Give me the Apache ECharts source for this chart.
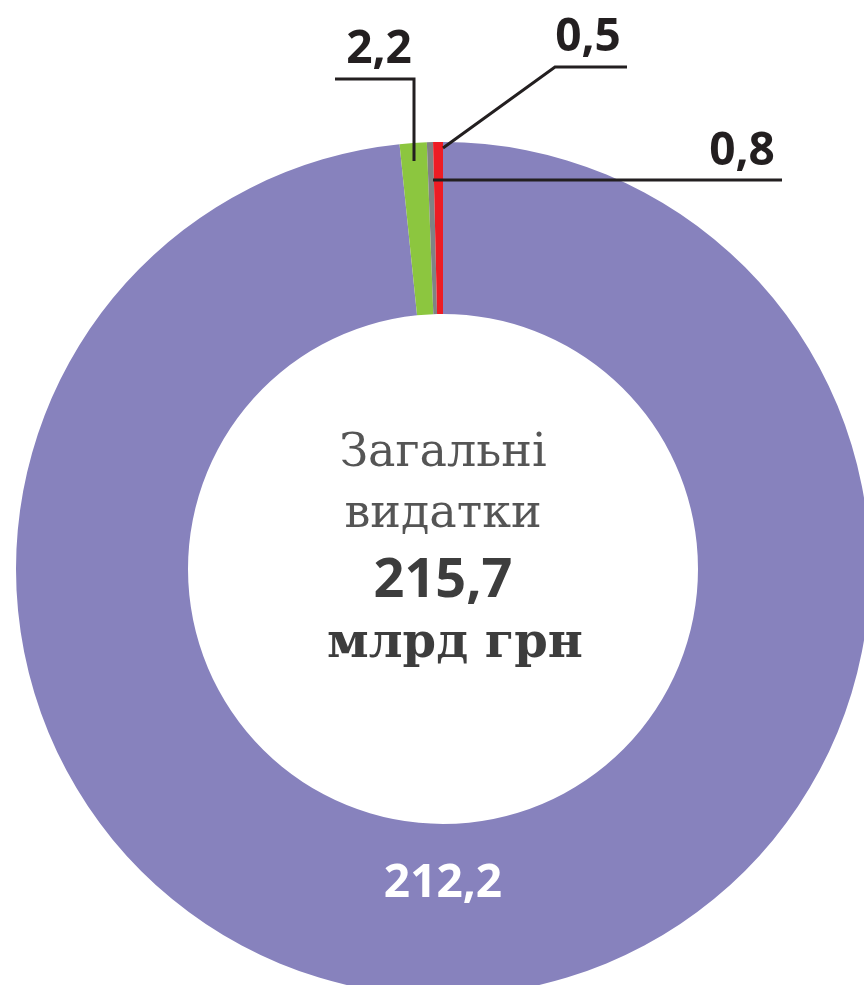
<!DOCTYPE html>
<html>
<head>
<meta charset="utf-8">
<script src="https://cdn.jsdelivr.net/npm/echarts@6/dist/echarts.min.js"></script>
<style>
  html, body { margin: 0; padding: 0; background: #fff; }
  #chart { width: 864px; height: 985px; }
</style>
</head>
<body>
<div id="chart"></div>
<script>
// значення сегментів (млрд грн), за годинниковою стрілкою від верху
const sliceNames = ['Основні видатки', 'Сегмент 2', 'Сегмент 3', 'Сегмент 4'];
const sliceValues = [212.2, 2.2, 0.5, 0.8];
const sliceColors = ['#8782bd', '#8cc63f', '#808285', '#ed1c24'];
const totalLabel = ['Загальні', 'видатки', '215,7', 'млрд грн'];

// розміщення підписів (виноски)
const labelPlaces = [
  { x: 443, y: 884, lines: null },
  { x: 379, y: 50, lines: [[414, 161], [414, 79], [335, 79]] },
  { x: 588, y: 38, lines: [[443, 148], [555, 67], [627, 67]] },
  { x: 742, y: 152, lines: [[433, 180], [600, 180], [782, 180]] }
];

const fmt = v => v.toFixed(1).replace('.', ',');

const pieCenter = [443, 569];
const pieRadius = [255, 427];

const chart = echarts.init(document.getElementById('chart'));

chart.setOption({
  animation: false,
  series: [
    {
      // кільце
      type: 'pie',
      z: 2,
      center: pieCenter,
      radius: pieRadius,
      startAngle: 90,
      clockwise: true,
      emphasis: { disabled: true },
      label: { show: false },
      labelLine: { show: false },
      data: sliceValues.map((v, i) => ({
        name: sliceNames[i],
        value: v,
        itemStyle: { color: sliceColors[i] }
      }))
    },
    {
      // підписи з виносками поверх кільця
      type: 'pie',
      z: 3,
      silent: true,
      center: pieCenter,
      radius: pieRadius,
      startAngle: 90,
      clockwise: true,
      avoidLabelOverlap: false,
      emphasis: { disabled: true },
      itemStyle: { color: 'rgba(0,0,0,0)' },
      label: {
        show: true,
        position: 'outside',
        formatter: p => fmt(p.value),
        fontFamily: 'Noto Sans',
        fontWeight: 'bold',
        fontSize: 46,
        color: '#231f20'
      },
      labelLine: {
        show: true,
        smooth: false,
        minTurnAngle: 0,
        maxSurfaceAngle: 180,
        lineStyle: { color: '#231f20', width: 3 }
      },
      labelLayout: function (params) {
        const pl = labelPlaces[params.dataIndex];
        const out = { x: pl.x, y: pl.y, align: 'center', verticalAlign: 'middle' };
        if (pl.lines) out.labelLinePoints = pl.lines;
        return out;
      },
      data: sliceValues.map((v, i) => ({
        name: sliceNames[i],
        value: v,
        label: i === 0 ? { color: '#ffffff' } : {},
        labelLine: i === 0 ? { show: false } : {}
      }))
    }
  ],
  graphic: [
    {
      type: 'text', x: 443, y: 454,
      style: { text: totalLabel[0], align: 'center', verticalAlign: 'middle',
        font: '300 46px "DejaVu Serif"', fill: '#555555' }
    },
    {
      type: 'text', x: 443, y: 515,
      style: { text: totalLabel[1], align: 'center', verticalAlign: 'middle',
        font: '300 46px "DejaVu Serif"', fill: '#555555' }
    },
    {
      type: 'text', x: 443, y: 582,
      style: { text: totalLabel[2], align: 'center', verticalAlign: 'middle',
        font: 'bold 54px "Noto Sans"', fill: '#3d3d3d' }
    },
    {
      type: 'text', x: 455, y: 645,
      style: { text: totalLabel[3], align: 'center', verticalAlign: 'middle',
        font: 'bold 48px "DejaVu Serif"', fill: '#3d3d3d' }
    }
  ]
});
</script>
</body>
</html>
